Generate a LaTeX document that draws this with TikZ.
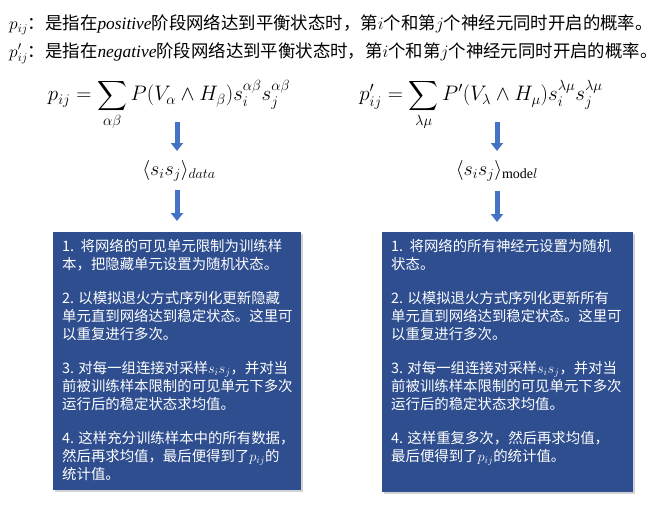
\RequirePackage{fix-cm}
\documentclass[tikz,border=0pt]{standalone}
\usepackage{exscale}
\usepackage{fontspec}
\setmainfont{Liberation Serif}
\newfontfamily\cjk{Noto Sans CJK SC}
\usetikzlibrary{shadows,arrows.meta}
\definecolor{boxblue}{RGB}{46,78,143}
\definecolor{arrblue}{RGB}{68,114,196}
\tikzset{
  headline/.style={anchor=west,inner sep=0pt,font=\fontsize{17.4}{20}\selectfont},
  formula/.style={inner sep=0pt,font=\fontsize{21}{24}\selectfont},
  midterm/.style={inner sep=0pt,font=\fontsize{20}{22}\selectfont},
  blk/.style={draw=arrblue,line width=5pt,-{Triangle[width=12pt,length=8pt]}},
  bluebox/.style={fill=boxblue,draw=none,anchor=north west,inner sep=0pt,
    drop shadow={opacity=0.35,shadow xshift=2pt,shadow yshift=-2pt}},
  boxtext/.style={anchor=north west,inner sep=0pt,text=white,align=left,
    font=\cjk\fontsize{14.4}{18}\selectfont}
}
\begin{document}
\begin{tikzpicture}[x=1pt,y=-1pt]
\useasboundingbox (0,0) rectangle (667,506);
\fill[white] (0,0) rectangle (667,506);

\node[headline] (t1) at (9,25) {$p_{ij}${\cjk ：是指在}{\itshape positive}{\cjk 阶段网络达到平衡状态时，第}$i${\cjk 个和第}$j${\cjk 个神经元同时开启的概率。}};
\node[headline] (t2) at (9,53) {$p'_{ij}${\cjk ：是指在}{\itshape negative}{\cjk 阶段网络达到平衡状态时，第}$i${\cjk 个和第}$j${\cjk 个神经元同时开启的概率。}};

\node[formula] (fL) at (169,105) {$\displaystyle p_{ij}=\sum_{\alpha\beta}P(V_\alpha\wedge H_\beta)s_i^{\alpha\beta}s_j^{\alpha\beta}$};
\node[formula] (fR) at (481,105) {$\displaystyle p'_{ij}=\sum_{\lambda\mu}P'(V_\lambda\wedge H_\mu)s_i^{\lambda\mu}s_j^{\lambda\mu}$};

\node[midterm] (sL) at (179,171) {$\langle s_is_j\rangle_{data}$};
\node[midterm] (sR) at (497,171) {$\langle s_is_j\rangle_{\mathrm{mode}l}$};

\node[bluebox,minimum width=248pt,minimum height=258pt] (bL) at (53,232) {};
\node[bluebox,minimum width=251pt,minimum height=260pt] (bR) at (382,232) {};

\coordinate (aL1) at (177,122);
\coordinate (aL2) at (177,151);
\coordinate (aL3) at (177,190);
\coordinate (aL4) at (177,221);
\coordinate (aR1) at (497,122);
\coordinate (aR2) at (497,151);
\coordinate (aR3) at (497,191);
\coordinate (aR4) at (497,222);
\draw[blk] (aL1) -- (aL2);
\draw[blk] (aL3) -- (aL4);
\draw[blk] (aR1) -- (aR2);
\draw[blk] (aR3) -- (aR4);

\node[boxtext] (xL) at (62,239) {1.\ \ 将网络的可见单元限制为训练样\\本，把隐藏单元设置为随机状态。\\[16pt]
2. 以模拟退火方式序列化更新隐藏\\单元直到网络达到稳定状态。这里可\\以重复进行多次。\\[16pt]
3. 对每一组连接对采样$s_is_j$，并对当\\前被训练样本限制的可见单元下多次\\运行后的稳定状态求均值。\\[16pt]
4. 这样充分训练样本中的所有数据，\\然后再求均值，最后便得到了$p_{ij}$的\\统计值。};

\node[boxtext] (xR) at (391,239) {1.\ \ 将网络的所有神经元设置为随机\\状态。\\[16pt]
2. 以模拟退火方式序列化更新所有\\单元直到网络达到稳定状态。这里可\\以重复进行多次。\\[16pt]
3. 对每一组连接对采样$s_is_j$，并对当\\前被训练样本限制的可见单元下多次\\运行后的稳定状态求均值。\\[16pt]
4. 这样重复多次，然后再求均值，\\最后便得到了$p_{ij}$的统计值。};
\end{tikzpicture}
\end{document}
